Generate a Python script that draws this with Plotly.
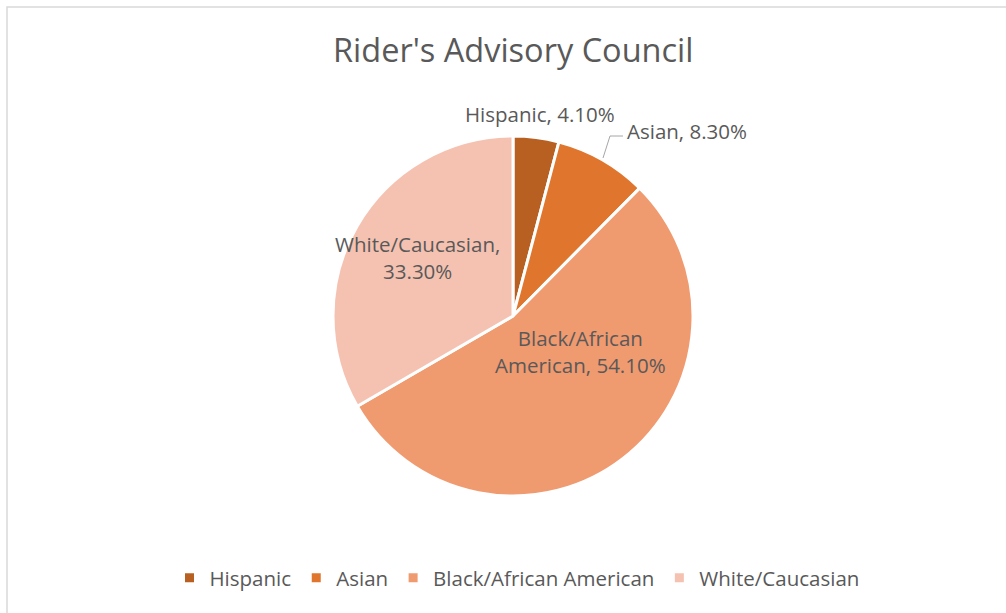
import plotly.graph_objects as go

categories = ["Hispanic", "Asian", "Black/African American", "White/Caucasian"]
values = [4.1, 8.3, 54.1, 33.3]
colors = ["#B85F22", "#E0752D", "#F09A70", "#F5C2B1"]
title = "Rider's Advisory Council"

W, H = 1006, 613
FONT = "Open Sans"
GREY = "#595959"

def px(x):
    return x / W

def py(y):
    return 1 - y / H

fig = go.Figure(go.Pie(
    labels=categories,
    values=values,
    sort=False,
    direction="clockwise",
    rotation=0,
    marker=dict(colors=colors, line=dict(color="white", width=3)),
    textinfo="none",
    hoverinfo="label+percent",
    domain=dict(x=[px(333), px(693)], y=[py(496), py(136)]),
))

# data labels
label_pos = {
    "Hispanic": (540, 114),
    "Asian": (687, 131),
    "Black/African American": (580, 352),
    "White/Caucasian": (417, 257),
}
anns = []
for cat, val in zip(categories, values):
    x, y = label_pos[cat]
    txt = f"{cat}, {val:.2f}%"
    if cat == "Black/African American":
        txt = f"Black/African<br>American, {val:.2f}%"
    if cat == "White/Caucasian":
        txt = f"White/Caucasian,<br>{val:.2f}%"
    anns.append(dict(x=px(x), y=py(y), xref="paper", yref="paper", text=txt,
                     showarrow=False, xanchor="center", yanchor="middle",
                     align="center", font=dict(family=FONT, size=20.5, color=GREY)))

anns.append(dict(x=px(513), y=py(50), xref="paper", yref="paper", text=title,
                 showarrow=False, xanchor="center", yanchor="middle",
                 font=dict(family=FONT, size=32.5, color=GREY)))

shapes = [
    dict(type="rect", xref="paper", yref="paper", x0=px(7), y0=-0.05, x1=1.05, y1=py(7),
         line=dict(color="#D9D9D9", width=1.5), fillcolor="rgba(0,0,0,0)"),
    dict(type="path", xref="paper", yref="paper",
         path=f"M {px(623)} {py(136)} L {px(610)} {py(136)} L {px(603)} {py(158)}",
         line=dict(color="#A6A6A6", width=1)),
]

fig.update_layout(
    width=W, height=H,
    margin=dict(l=0, r=0, t=0, b=0),
    paper_bgcolor="white",
    plot_bgcolor="white",
    showlegend=True,
    legend=dict(orientation="h", x=px(517), xanchor="center", y=py(578), yanchor="middle",
                font=dict(family=FONT, size=20.5, color=GREY), itemwidth=30,
                traceorder="normal"),
    annotations=anns,
    shapes=shapes,
)

fig.write_html("out.html",
               config={"displayModeBar": False},
               post_script="document.body.style.margin='0';document.body.style.overflow='hidden';")
